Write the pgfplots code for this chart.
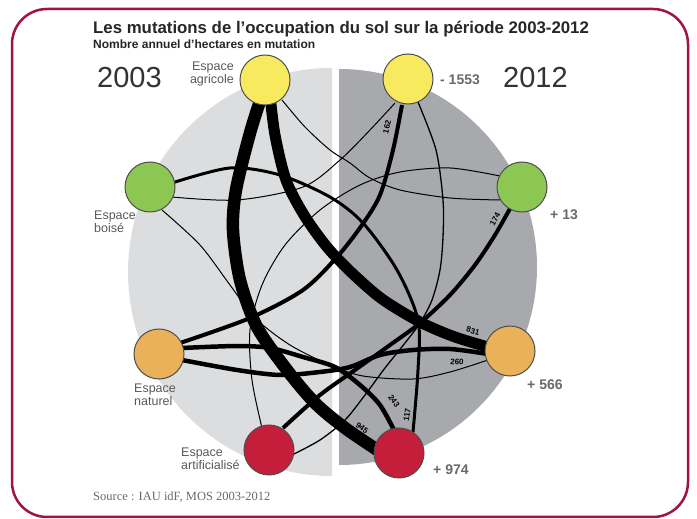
\documentclass[border=0pt]{standalone}
\usepackage{pgfplots}
\pgfplotsset{compat=1.18}
\usepackage{fontspec}
\setmainfont{Liberation Sans}
\newfontfamily\seriffont{Liberation Serif}
\definecolor{agri}{HTML}{F7EA5E}
\definecolor{bois}{HTML}{8CC653}
\definecolor{natu}{HTML}{E9B15A}
\definecolor{arti}{HTML}{C41E3A}
\definecolor{circ}{HTML}{4D4D4D}
\definecolor{bgL}{HTML}{DCDDDE}
\definecolor{bgR}{HTML}{A7A9AC}
\definecolor{framecol}{HTML}{A0153E}
\definecolor{thin}{HTML}{6D6E71}
\definecolor{txt}{HTML}{58595B}
\definecolor{num}{HTML}{6A6A6A}
\begin{document}
\begin{tikzpicture}
\begin{axis}[hide axis, scale only axis, width=697pt, height=518pt,
  xmin=0, xmax=697, ymin=0, ymax=518, y dir=reverse, clip=false]
% page and background
\path[fill=white] (axis cs:0,0) rectangle (axis cs:697,518);
\fill[bgL] (axis cs:332,68) -- (axis cs:332,476) arc[start angle=270, end angle=90, radius=204pt] -- cycle;
\fill[bgR] (axis cs:339,69) -- (axis cs:339,465) arc[start angle=-90, end angle=90, radius=198pt] -- cycle;
\draw[framecol, line width=2.5pt, rounded corners=35pt] (axis cs:12,9) rectangle (axis cs:688,517);
% thin gray flows
\addplot[thin, line width=1pt, smooth] coordinates {(282,100) (305,127) (330,150) (350,163) (370,178) (400,190) (450,198) (500,200)};
\addplot[thin, line width=1pt, smooth] coordinates {(172,197) (237,200) (303,187) (340,160) (370,130) (395,103)};
\addplot[thin, line width=1pt, smooth] coordinates {(262,428) (252,380) (250,330) (262,285) (285,245) (320,210) (360,185) (400,172) (450,168) (500,176)};
\addplot[thin, line width=1pt, smooth] coordinates {(162,210) (200,245) (230,285) (255,318) (290,345) (330,365) (363,376) (413,379) (450,372) (488,360)};
% dark thin flow
\addplot[black, line width=1.3pt, smooth] coordinates {(292,455) (320,440) (345,420) (365,395) (385,368) (405,343) (420,323) (432,300) (440,270) (443,237) (443,200) (436,150) (418,102)};
% black flows
\addplot[black, line width=3pt, smooth] coordinates {(172,183) (230,168) (280,175) (330,197) (363,223) (397,270) (418,320) (418,370) (413,432)};
\addplot[black, line width=4pt, smooth] coordinates {(283,428) (320,395) (355,370) (390,345) (420,323) (450,295) (475,265) (495,235) (512,205)};
\addplot[black, line width=4pt, smooth] coordinates {(180,343) (250,318) (303,290) (337,257) (362,225) (380,195) (393,150) (402,105)};
\addplot[black, line width=4.5pt, smooth] coordinates {(182,360) (237,370) (280,375) (320,372) (350,367) (380,355) (413,350) (450,349) (488,354)};
\addplot[black, line width=4.5pt, smooth] coordinates {(182,348) (237,346) (270,348) (303,357) (335,367) (360,385) (380,405) (395,432)};
\addplot[black, line width=11pt, smooth] coordinates {(270,95) (275,135) (286,180) (304,215) (327,247) (352,273) (382,299) (420,322) (455,337) (495,349)};
\addplot[black, line width=12.5pt, smooth] coordinates {(262,95) (250,133) (236,190) (233,230) (240,280) (257,327) (287,370) (315,403) (345,428) (385,455)};
% nodes
\addplot[only marks, mark=*, mark size=25pt, mark options={fill=agri, draw=circ, line width=1pt}] coordinates {(265,80) (408,79)};
\addplot[only marks, mark=*, mark size=25pt, mark options={fill=bois, draw=circ, line width=1pt}] coordinates {(150,187) (522,187)};
\addplot[only marks, mark=*, mark size=25pt, mark options={fill=natu, draw=circ, line width=1pt}] coordinates {(159,354) (510,351)};
\addplot[only marks, mark=*, mark size=25pt, mark options={fill=arti, draw=circ, line width=1pt}] coordinates {(269,450) (399,453)};
% flow labels
\begin{scope}[every node/.style={font=\bfseries\fontsize{8}{9}\selectfont, inner sep=0pt}]
\node[rotate=76] at (axis cs:387,127) {162};
\node[rotate=60] at (axis cs:495,219) {174};
\node[rotate=-15] at (axis cs:473,331) {831};
\node[rotate=-5] at (axis cs:457,362) {260};
\node[rotate=-55] at (axis cs:394,401) {243};
\node[rotate=82] at (axis cs:407,415) {117};
\node[rotate=-38] at (axis cs:362,428) {945};
\end{scope}
% titles
\node[anchor=base west, inner sep=0pt, font=\bfseries\fontsize{16.8}{18}\selectfont, text=black!85] at (axis cs:93,34) {Les mutations de l’occupation du sol sur la période 2003-2012};
\node[anchor=base west, inner sep=0pt, font=\bfseries\fontsize{12}{13}\selectfont, text=black!85] at (axis cs:93,49) {Nombre annuel d’hectares en mutation};
\node[anchor=base west, inner sep=0pt, font=\fontsize{29}{30}\selectfont, text=black!80] at (axis cs:97,88) {2003};
\node[anchor=base west, inner sep=0pt, font=\fontsize{29}{30}\selectfont, text=black!80] at (axis cs:503,88) {2012};
% category labels
\begin{scope}[every node/.style={inner sep=0pt, text=txt, font=\fontsize{12.5}{13}\selectfont}]
\node[anchor=north east, align=right] at (axis cs:234,62) {Espace\\agricole};
\node[anchor=north west, align=left] at (axis cs:94,211) {Espace\\boisé};
\node[anchor=north west, align=left] at (axis cs:134,384) {Espace\\naturel};
\node[anchor=north west, align=left] at (axis cs:181,448) {Espace\\artificialisé};
\end{scope}
\begin{scope}[every node/.style={inner sep=0pt, text=num, anchor=base west, font=\bfseries\fontsize{14}{15}\selectfont}]
\node at (axis cs:440,85) {- 1553};
\node at (axis cs:550,220) {+ 13};
\node at (axis cs:527,390) {+ 566};
\node at (axis cs:433,475) {+ 974};
\end{scope}
\node[anchor=base west, inner sep=0pt, text=num, font=\seriffont\fontsize{12.5}{13}\selectfont] at (axis cs:93,501) {Source : IAU idF, MOS 2003-2012};
\end{axis}
\end{tikzpicture}
\end{document}
